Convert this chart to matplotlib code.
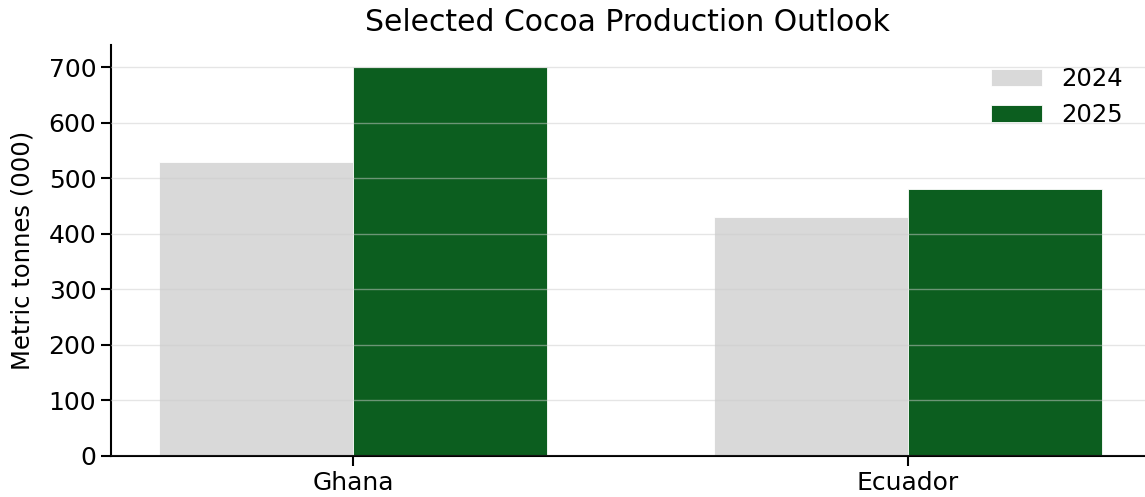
import numpy as np
import matplotlib
matplotlib.use('Agg')
import matplotlib.pyplot as plt

# data
countries = ['Ghana', 'Ecuador']
years = ['2024', '2025']
prod_2024 = [530, 430]
prod_2025 = [700, 480]

colors = ['#d9d9d9', '#0c5e1f']

fig = plt.figure(figsize=(11.45, 4.97), dpi=100)
ax = fig.add_axes([0.0969, 0.0825, 0.903, 0.827])

x = np.arange(len(countries))
width = 0.35

ax.bar(x - width / 2, prod_2024, width, color=colors[0], edgecolor='white', linewidth=0.6, label=years[0])
ax.bar(x + width / 2, prod_2025, width, color=colors[1], edgecolor='white', linewidth=0.6, label=years[1])

ax.set_xticks(x)
ax.set_xticklabels(countries)
ax.set_xlim(-0.436, 1.427)
ax.set_ylim(0, 740)
ax.set_yticks(range(0, 701, 100))

ax.yaxis.grid(True, color='#cccccc', alpha=0.5, linewidth=1)
ax.set_axisbelow(False)

for s in ['top', 'right']:
    ax.spines[s].set_visible(False)
ax.spines['left'].set_linewidth(1.5)
ax.spines['bottom'].set_linewidth(1.5)

ax.tick_params(axis='both', labelsize=18, width=1.5, length=7)
ax.set_ylabel('Metric tonnes (000)', fontsize=17.5, labelpad=10)
ax.set_title('Selected Cocoa Production Outlook', fontsize=21.5, pad=10)

ax.legend(loc='upper right', frameon=False, fontsize=17.5, handlelength=2.1)

fig.savefig('out.png', dpi=100)
